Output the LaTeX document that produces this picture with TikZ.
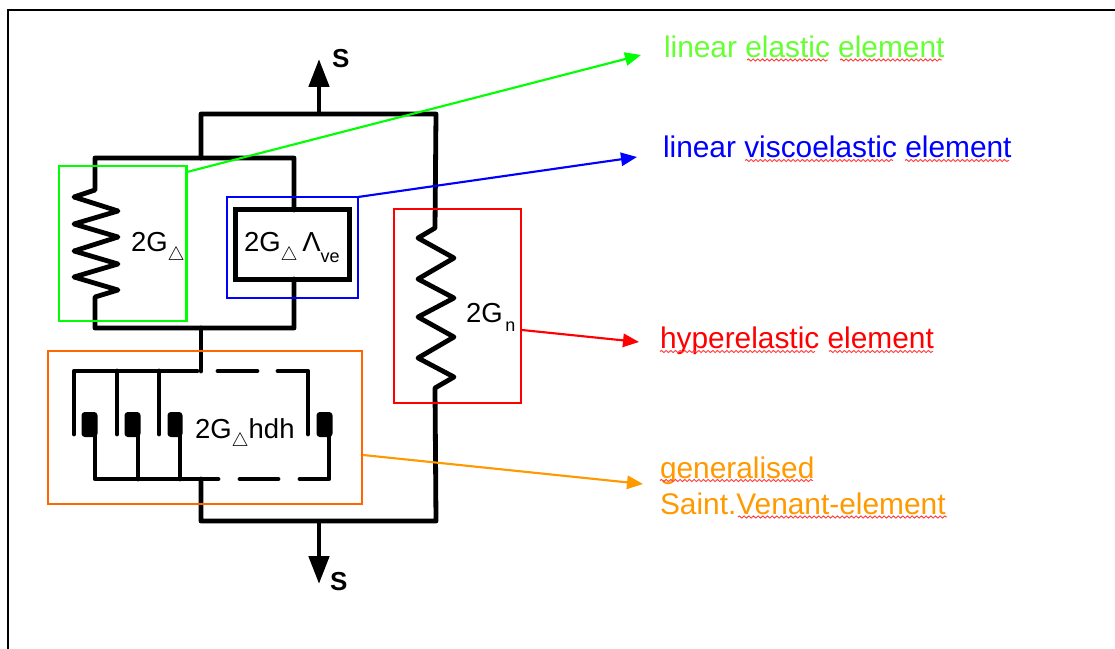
\documentclass[tikz,border=0pt]{standalone}
\usepackage{fontspec}
\setmainfont{Liberation Sans}
\usetikzlibrary{arrows.meta,decorations.pathmorphing}
\newcommand{\bigfs}{\fontsize{20.6}{24}\selectfont}
\newcommand{\labfs}{\fontsize{22.4}{27}\selectfont}
\newcommand{\subd}[1]{\raisebox{-6.5pt}{\fontsize{14}{16}\selectfont #1}}
\definecolor{lgreen}{HTML}{00FF00}
\definecolor{tgreen}{HTML}{66FF33}
\definecolor{lblue}{HTML}{0000FF}
\definecolor{lred}{HTML}{FF0000}
\definecolor{lorange}{HTML}{FF6600}
\definecolor{torange}{HTML}{FF9900}
\tikzset{
  wire/.style={draw=black,line width=3.6pt,line join=round,line cap=round},
  frameline/.style={draw=black,line width=1.6pt},
  pad/.style={fill=black,rounded corners=2.5pt,draw=none},
  force/.style={wire,line cap=butt,-{Triangle[length=21pt,width=15pt]}},
  txt/.style={inner sep=0pt,outer sep=0pt,anchor=base west,text=black},
  bigt/.style={txt,font=\bigfs},
  colbox/.style={rectangle,fill=none,inner sep=0pt,outer sep=0pt,line width=1.9pt},
  leader/.style={line width=1.6pt,-{Triangle[length=12pt,width=10pt]}},
  wavy/.style={draw=lred!75,line width=0.7pt,decorate,decoration={snake,amplitude=0.8pt,segment length=3.5pt}},
}
\begin{document}
\begin{tikzpicture}[x=0.75pt,y=-0.75pt]
\useasboundingbox (0,0) rectangle (1115,649);
% outer frame
\coordinate (fa) at (8,649); \coordinate (fb) at (8,10); \coordinate (fc) at (1115,10);
\draw[frameline] (fa) -- (fb) -- (fc);
% main frame wires
\coordinate (tl) at (201,114); \coordinate (tm) at (319,114); \coordinate (tr) at (436,114);
\coordinate (bl) at (201,521); \coordinate (bm) at (319,521); \coordinate (br) at (436,521);
\coordinate (itop) at (201,158); \coordinate (ibot) at (201,328);
\coordinate (ftip) at (319,59); \coordinate (gtip) at (319,584);
\draw[wire] (itop) -- (tl) -- (tr) -- (435,228) -- (418,238) -- (454,258) -- (418,279) -- (454,298) -- (418,317) -- (454,337) -- (418,358) -- (454,377) -- (435,388) -- (br) -- (bl) -- (201,479);
\draw[force] (tm) -- (ftip);
\draw[force] (bm) -- (gtip);
% parallel pair
\draw[wire] (294,210) -- (294,158) -- (95,158) -- (95,190) -- (74,197) -- (118,211) -- (74,224) -- (118,237) -- (74,251) -- (118,264) -- (74,277) -- (118,290) -- (95,297) -- (95,328) -- (294,328) -- (294,279);
\draw[wire] (ibot) -- (201,371);
% viscoelastic box
\node[draw=black,line width=3.8pt,minimum width=86pt,minimum height=52pt,inner sep=0pt] (vebox) at (292.5,244.5) {};
% Saint-Venant
\draw[wire] (74,434) -- (74,371) -- (197,371);
\draw[wire] (117,371) -- (117,434);
\draw[wire] (159,371) -- (159,434);
\draw[wire] (218,371) -- (257,371);
\draw[wire] (278,371) -- (308,371) -- (308,434);
\fill[pad] (81.5,412) rectangle (97.5,437);
\fill[pad] (124.5,412) rectangle (140.5,437);
\fill[pad] (167.5,412) rectangle (182.5,437);
\fill[pad] (316.5,412) rectangle (332.5,437);
\draw[wire] (95,430) -- (95,479) -- (218,479);
\draw[wire] (138,430) -- (138,479);
\draw[wire] (180,430) -- (180,479);
\draw[wire] (240,479) -- (278,479);
\draw[wire] (300,479) -- (329,479) -- (329,430);
% labels
\node[txt,font=\bfseries\fontsize{19.5}{22}\selectfont] (su) at (332,68) {S};
\node[txt,font=\bfseries\fontsize{19.5}{22}\selectfont] (sd) at (330,590) {S};
\node[bigt] (g1) at (131,252) {2G\subd{$\triangle$}};
\node[bigt] (g2) at (244,252) {2G\subd{$\triangle$}\kern3.5pt\char"039B\raisebox{-8pt}{\fontsize{13.5}{15}\selectfont ve}};
\node[bigt] (g3) at (466,323) {2G\kern2pt\raisebox{-6.5pt}{\fontsize{13.5}{15}\selectfont n}};
\node[bigt] (g4) at (195,438) {2G\subd{$\triangle$}hdh};
% colored boxes
\node[colbox,draw=lgreen,minimum width=95.6pt,minimum height=116.2pt] (gbox) at (122.75,243.5) {};
\node[colbox,draw=lblue,minimum width=98.2pt,minimum height=75.7pt] (bbox) at (292.5,247.5) {};
\node[colbox,draw=lred,minimum width=95.2pt,minimum height=145.5pt] (rbox) at (457.5,306) {};
\node[colbox,draw=lorange,minimum width=235.5pt,minimum height=114.7pt] (obox) at (205,427.5) {};
% text labels
\node[txt,font=\labfs,text=tgreen] (tg) at (664,58) {linear elastic element};
\node[txt,font=\labfs,text=lblue] (tb) at (663,158) {linear viscoelastic element};
\node[txt,font=\labfs,text=lred] (tr2) at (660,349) {hyperelastic element};
\node[txt,font=\labfs,text=torange] (to1) at (660,478) {generalised};
\node[txt,font=\labfs,text=torange] (to2) at (660,514) {Saint.Venant-element};
% leaders
\coordinate (gs) at (187,172); \coordinate (ge) at (641,55);
\coordinate (bs) at (358,197); \coordinate (be) at (637,157);
\coordinate (rs) at (522,330); \coordinate (re) at (639,342);
\coordinate (os) at (363,455); \coordinate (oe) at (643,484);
\draw[leader,draw=lgreen,fill=lgreen] (gs) -- (ge);
\draw[leader,draw=lblue,fill=lblue] (bs) -- (be);
\draw[leader,draw=lred,fill=lred] (rs) -- (re);
\draw[leader,draw=torange,fill=torange] (os) -- (oe);
% spell-check underlines
\draw[wavy] (747,60) -- (828,60);
\draw[wavy] (840,60) -- (942,60);
\draw[wavy] (745,160.5) -- (893,160.5);
\draw[wavy] (905,160.5) -- (1009,160.5);
\draw[wavy] (660,351.5) -- (815,351.5);
\draw[wavy] (829,351.5) -- (933,351.5);
\draw[wavy] (660,480.5) -- (813,480.5);
\draw[wavy] (738,517) -- (947,517);
\end{tikzpicture}
\end{document}
